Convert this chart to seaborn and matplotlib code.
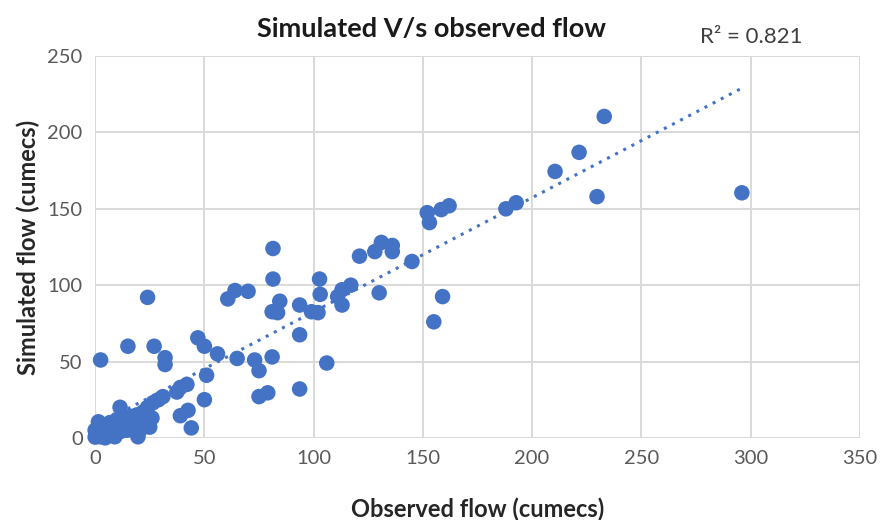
import pandas as pd
import matplotlib
matplotlib.use("Agg")
import matplotlib.pyplot as plt
import seaborn as sns
import numpy as np

# observed vs simulated flow (cumecs)
observed = [
    0, 0, 1.5, 2.3, 3.6, 5.5, 6.8, 8.2, 9, 10, 11.4, 11.4, 12.8, 14.6, 16, 19,
    19.6, 20.5, 20.5, 22, 24, 24, 25, 26, 26.5, 29, 31, 4.6, 7, 3, 10, 15,
    2.5, 15, 24, 27, 32, 32, 37.4, 39, 42, 39, 42.5, 44, 47, 50, 50, 51, 56,
    60.7, 64, 65, 70, 73, 75, 75, 79, 81, 81.4, 81.4, 81, 83.5, 84.5, 93.6,
    93.6, 93.6, 99, 102, 102.7, 103, 106, 111, 113, 113, 117, 121, 128, 131,
    136, 136, 130, 145, 152, 153, 158.4, 162, 159, 155, 188, 192.7, 210.5,
    221.5, 229.7, 233, 296,
]
simulated = [
    0.5, 5, 10.5, 0.7, 8.5, 2, 10, 3.3, 0.7, 12, 4, 20, 13, 5, 14, 15,
    0.7, 5, 13, 17, 10.5, 20, 7, 13, 23, 25, 27, 0, 6, 3, 8, 9,
    51, 60, 92, 60, 52.5, 48, 30, 33, 35, 14.5, 18, 6.5, 65.5, 60, 25, 41, 55,
    91, 96.5, 52, 96, 51, 44, 27, 29.5, 53, 124, 104, 82.6, 82, 89.5, 87,
    67.5, 32, 82.6, 82, 104, 94, 49, 92.5, 97, 87, 100, 119, 122, 128,
    126, 122, 95, 115.5, 147.5, 141, 149.5, 152, 92.5, 76, 150, 154, 174.5,
    187, 158, 210.5, 160.5,
]
r2_text = "R² = 0.821"

df = pd.DataFrame({"observed": observed, "simulated": simulated})

sns.set_style("whitegrid")
plt.rcParams['font.family'] = ['Lato', 'DejaVu Sans']

fig = plt.figure(figsize=(8.81, 5.2), dpi=100)
ax = fig.add_axes([0.108, 0.158, 0.868, 0.734])

blue = "#4472C4"
sns.scatterplot(data=df, x="observed", y="simulated", ax=ax, s=125,
                color=blue, edgecolor="none", clip_on=False, zorder=3)
# linear trendline (dotted, like Excel)
sns.regplot(data=df, x="observed", y="simulated", ax=ax, scatter=False,
            ci=None, truncate=True,
            line_kws=dict(color=blue, linestyle=(0, (1, 2)), linewidth=2.2))

ax.set_xlim(0, 350)
ax.set_ylim(0, 250)
ax.set_xticks(range(0, 351, 50))
ax.set_yticks(range(0, 251, 50))
ax.grid(True, color="#D9D9D9", linewidth=1.4)
for sp in ax.spines.values():
    sp.set_visible(False)
ax.tick_params(axis="both", length=0, labelsize=14.5, colors="#595959", pad=9)

ax.set_xlabel("Observed flow (cumecs)", fontsize=17, fontweight="bold",
              color="#262626", labelpad=22)
ax.set_ylabel("Simulated flow (cumecs)", fontsize=17, fontweight="bold",
              color="#262626", labelpad=5)

fig.text(0.49, 0.944, "Simulated V/s observed flow", ha="center", va="center",
         fontsize=19.5, fontweight="bold", color="#1a1a1a")
fig.text(0.795, 0.929, r2_text, ha="left", va="center", fontsize=16,
         color="#404040")

fig.savefig("out.png", dpi=100)
